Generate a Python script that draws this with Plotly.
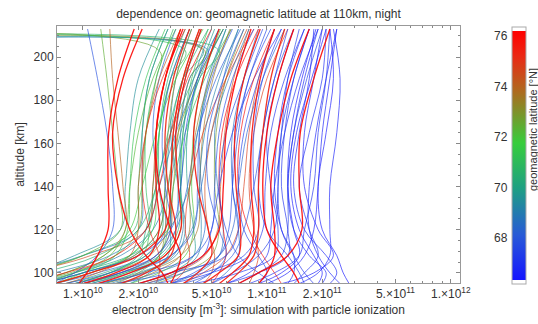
import plotly.graph_objects as go

# ---------------- data (electron density in units of 1e10 m^-3) ----------------
ALT_KM = [95, 100, 108, 120, 140, 165, 190, 213]
ALT_KM_TOPDROP = [95, 100, 108, 120, 140, 165, 190, 203, 209]

LAT_BLUE = [66.3, 66.5, 66.6, 66.8, 67.0, 67.1, 67.2, 67.3, 67.4, 67.5, 67.6, 67.7,
            67.8, 67.9, 66.9, 66.7, 67.0, 67.5, 67.3, 66.5, 67.8, 68.0, 66.4, 67.1, 66.8]
NE_BLUE = [
    [28, 26, 24, 20, 19, 21, 23, 22],
    [12, 18, 23, 19, 16, 16, 18, 20],
    [15, 19, 22, 22, 22, 24, 25, 23],
    [20, 21, 17, 14, 13, 14, 16, 19],
    [6, 9, 13, 13, 12, 12.5, 14, 17],
    [4, 7, 11, 11.5, 10.5, 10, 11.5, 14],
    [16, 15, 13, 10, 9, 9.5, 11, 13],
    [2.5, 4.5, 7.5, 9, 8.5, 8.5, 9.5, 12],
    [9, 10, 9, 7.5, 7, 7.5, 9, 11],
    [1.5, 3, 6, 7, 6.5, 6.8, 8, 10],
    [11, 9, 7, 6, 5.5, 6, 7.5, 9.5],
    [1.2, 2.2, 4, 5, 5.2, 5.5, 6.5, 8.5],
    [3.5, 5, 6, 5.5, 4.8, 4.8, 5.8, 7.5],
    [0.9, 1.6, 3, 4, 4.2, 4.3, 5, 6.5],
    [14, 16, 19, 17, 15, 17, 20, 21],
    [22, 24, 21, 16, 14, 15, 17, 18],
    [8, 11, 15, 16, 18, 19, 21, 22],
    [0.6, 1.0, 2.0, 3.0, 3.4, 3.6, 4.2, 5.5],
    [5, 6.5, 9, 11, 11.5, 12, 13, 15],
    [10, 13, 16, 18, 19, 20, 22, 24],
    [0.7, 0.9, 1.2, 1.45, 1.45, 1.35, 1.2, 1.06],
    [0.8, 1.4, 2.5, 3.0, 2.8, 2.7, 3.0, 3.8],
    [19, 20, 18, 15, 13.5, 14.5, 17.5, 21],
    [3, 5, 8, 9.5, 9.8, 10.5, 12.5, 16],
    [13, 14, 14, 12, 11, 11.5, 13, 16],
]

LAT_TEAL = [68.2, 68.4, 68.6, 68.8, 69.0, 69.2, 69.5, 69.8, 70.0, 70.3, 68.5, 69.3]
NE_TEAL = [
    [0.7, 1.2, 2.2, 2.8, 2.6, 2.4, 2.6, 3.2],
    [1.5, 2.5, 4.0, 4.6, 4.4, 4.3, 4.8, 6.0],
    [0.25, 0.45, 1.0, 2.0, 2.1, 2.1, 2.3, 2.9],
    [3, 4.2, 5.5, 5.8, 5.4, 5.2, 5.8, 7.0],
    [0.6, 0.9, 1.6, 2.4, 2.9, 3.2, 3.6, 4.4],
    [1.0, 1.6, 2.6, 3.2, 3.3, 3.5, 4.0, 5.0],
    [0.3, 0.5, 0.9, 1.6, 1.7, 1.8, 2.0, 2.6],
    [2.0, 3.0, 4.0, 4.0, 3.7, 3.7, 4.2, 5.2],
    [0.55, 0.9, 1.8, 2.9, 3.8, 4.2, 4.9, 6.0],
    [0.8, 1.3, 2.2, 2.7, 2.6, 2.6, 2.9, 3.6],
    [5, 6, 7, 7, 6.5, 6.5, 7.5, 9],
    [1.2, 2.0, 3.2, 3.6, 3.3, 3.0, 3.2, 3.9],
]

LAT_GREEN = [70.8, 71.2, 71.5, 72.0, 72.4, 72.8, 71.0]
NE_GREEN = [
    [0.3, 0.5, 1.0, 1.9, 2.0, 2.1, 2.3, 2.9],
    [1.0, 1.7, 2.8, 3.4, 3.4, 3.5, 3.9, 4.8],
    [0.6, 1.0, 1.8, 2.4, 2.5, 2.6, 3.0, 3.8],
    [1.8, 2.6, 3.6, 4.0, 3.9, 4.0, 4.5, 5.6],
    [0.3, 0.5, 1.0, 1.6, 1.55, 1.45, 1.35, 1.25],
    [2.5, 3.5, 5, 5.5, 5.2, 5.3, 6, 7.5],
    [0.9, 1.4, 2.1, 2.3, 2.2, 2.2, 2.5, 3.1],
]

LAT_OLIVE = [73.2, 73.6, 74.0, 74.3, 74.6, 74.8, 73.8]
NE_OLIVE = [
    [0.7, 1.1, 1.9, 2.6, 2.8, 2.9, 3.2, 3.9],
    [1.3, 2.1, 3.4, 4.2, 4.3, 4.5, 5.1, 6.3],
    [0.5, 0.8, 1.3, 1.7, 1.65, 1.55, 1.45, 1.4],
    [2.2, 3.2, 4.6, 5.4, 5.6, 5.9, 6.6, 8.0],
    [0.3, 0.5, 1.1, 2.2, 2.4, 2.5, 2.8, 3.4],
    [3.5, 4.5, 6, 7, 7.5, 8, 9, 11],
    [1.0, 1.6, 2.5, 3.0, 3.0, 3.1, 3.5, 4.3],
]

LAT_MIX = [67.2, 68.9, 75.1, 70.2, 66.8, 73.0, 74.9, 67.6, 71.8, 69.6, 76.0, 68.1, 72.2, 67.0,
           75.6, 70.9, 66.6, 74.2, 69.1, 67.9, 75.9, 68.7, 73.5, 66.4, 71.3, 76.2, 67.4, 70.5,
           74.5, 68.3]
NE_MIX = [
    [2.0, 3.0, 4.5, 5.0, 5.5, 6.5, 8.5, 12],
    [0.4, 0.7, 1.4, 2.2, 2.6, 3.2, 4.2, 5.8],
    [3.0, 3.5, 3.8, 3.6, 3.8, 4.5, 6.0, 8.5],
    [0.9, 1.4, 2.0, 2.2, 2.5, 3.0, 4.0, 5.5],
    [6, 8, 10, 10.5, 11, 12.5, 15, 19],
    [1.5, 2.0, 2.6, 2.8, 2.9, 3.3, 4.2, 5.8],
    [8, 8.5, 9, 8.5, 8, 8.5, 10, 13],
    [3.0, 4.0, 5.5, 6.2, 6.5, 7.0, 8.0, 10.5],
    [0.5, 0.8, 1.3, 1.8, 2.1, 2.5, 3.2, 4.5],
    [1.8, 2.3, 2.9, 3.0, 3.0, 3.4, 4.3, 5.8],
    [12, 11, 9.5, 8.0, 7.0, 7.2, 8.5, 11],
    [1.0, 1.6, 2.5, 3.2, 3.7, 4.2, 5.3, 7.2],
    [0.6, 0.9, 1.4, 1.7, 1.8, 2.0, 2.4, 3.2],
    [18, 16, 14, 12, 11.5, 12, 14, 17],
    [2.5, 2.6, 2.6, 2.3, 2.1, 2.2, 2.7, 3.6],
    [1.3, 1.9, 2.6, 2.9, 3.1, 3.6, 4.6, 6.4],
    [25, 22, 19, 17, 17, 18.5, 21, 24],
    [0.8, 1.2, 1.8, 2.0, 2.0, 2.2, 2.6, 3.4],
    [2.4, 3.2, 4.2, 4.4, 4.3, 4.6, 5.5, 7.0],
    [4.0, 5.0, 6.5, 7.5, 8.5, 9.5, 11, 14],
    [0.45, 0.8, 1.5, 2.2, 2.6, 3.0, 3.7, 5.0],
    [1.1, 1.8, 3.0, 3.9, 4.4, 5.0, 6.2, 8.0],
    [1.6, 2.4, 3.4, 3.8, 3.8, 4.1, 4.9, 6.4],
    [9, 12, 15, 14, 13, 13.5, 15.5, 18.5],
    [0.7, 1.0, 1.5, 1.75, 1.8, 1.9, 2.2, 2.8],
    [5, 5.5, 6, 5.8, 5.5, 5.7, 6.8, 9],
    [7, 9, 12, 13, 13, 14, 16.5, 20],
    [0.35, 0.6, 1.2, 2.0, 2.5, 2.9, 3.5, 4.8],
    [4.5, 5.0, 5.2, 4.8, 4.6, 5.0, 6.0, 7.8],
    [2.2, 3.5, 5.5, 6.5, 7.0, 7.8, 9.5, 12.5],
]

LAT_TOPDROP = [69.8, 70.6, 73.4, 72.6, 69.0, 71.0]
NE_TOPDROP = [
    [0.6, 1.0, 1.9, 2.6, 2.8, 3.0, 3.5, 4.5, 0.3],
    [1.1, 1.7, 2.7, 3.3, 3.4, 3.7, 4.3, 5.5, 0.05],
    [0.9, 1.4, 2.3, 2.9, 3.1, 3.3, 3.8, 4.6, 0.15],
    [0.5, 0.85, 1.5, 2.0, 2.1, 2.2, 2.5, 2.6, 0.02],
    [1.4, 2.1, 3.1, 3.5, 3.4, 3.4, 3.8, 4.8, 0.5],
    [0.7, 1.1, 1.8, 2.3, 2.4, 2.6, 3.0, 3.6, 0.08],
]

LAT_RED = [76.2, 76.0, 75.8, 75.6, 76.1, 75.9, 75.5, 76.3, 76.0, 75.7, 75.3, 76.2, 75.8, 76.1, 75.4]
NE_RED = [
    [0.95, 1.05, 1.2, 1.37, 1.37, 1.38, 1.55, 1.9],
    [2.9, 2.7, 2.2, 1.8, 1.55, 1.45, 1.65, 2.1],
    [1.2, 1.8, 2.8, 3.4, 3.3, 3.2, 3.6, 4.4],
    [3.5, 4.2, 5.0, 4.8, 4.2, 4.0, 4.5, 5.5],
    [2.0, 3.0, 4.5, 5.5, 5.8, 6.0, 6.8, 8.2],
    [5.5, 6.5, 8, 8.5, 8.2, 8.3, 9.2, 11],
    [0.7, 1.1, 2.0, 2.8, 3.0, 3.1, 3.5, 4.3],
    [15, 14, 12, 10, 9.5, 10, 11.5, 14],
    [7, 9, 13, 15.5, 15, 15.2, 18, 22],
    [4.5, 5.5, 7, 7.2, 6.8, 6.7, 7.5, 9.2],
    [1.6, 2.2, 3.0, 3.2, 2.9, 2.8, 3.1, 3.8],
    [9, 10, 11, 11, 10.5, 11.5, 13.5, 17],
    [1.0, 1.5, 2.3, 2.6, 2.5, 2.5, 2.8, 3.4],
    [3.0, 3.2, 3.4, 3.0, 2.6, 2.5, 2.8, 3.5],
    [6, 7, 8.5, 9, 9, 9.5, 10.5, 12.5],
]

X_TICK_VALS = [1e10, 2e10, 5e10, 1e11, 2e11, 5e11, 1e12]
X_TICK_TEXT = ["1.×10<sup>10</sup>", "2.×10<sup>10</sup>", "5.×10<sup>10</sup>",
               "1.×10<sup>11</sup>", "2.×10<sup>11</sup>", "5.×10<sup>11</sup>",
               "1.×10<sup>12</sup>"]
CB_TICKS = [68, 70, 72, 74, 76]
UNIT = 1e10

# ---------------- styling ----------------
PLOT_L, PLOT_R, PLOT_T, PLOT_B = 57, 460, 26, 283
H_PLOT = PLOT_B - PLOT_T
W_PLOT = PLOT_R - PLOT_L
CB_TOP, CB_BOT = 27, 284          # colorbar pixel extent
CB_LEFT = 512
CB_Y76, PX_PER_DEG = 36.0, 25.25  # pixel of 76 deg and scale
cmax = 76 + (CB_Y76 - CB_TOP) / PX_PER_DEG
cmin = cmax - (CB_BOT - CB_TOP) / PX_PER_DEG
LAT_MAX = cmax - 4 / PX_PER_DEG
LAT_MIN = cmin + 4 / PX_PER_DEG

STOPS = [
    (0.00, (20, 20, 255)),
    (0.18, (40, 90, 215)),
    (0.37, (30, 160, 130)),
    (0.55, (55, 205, 60)),
    (0.76, (175, 105, 30)),
    (0.90, (235, 40, 20)),
    (1.00, (255, 0, 0)),
]


def lat_color(lat, alpha):
    f = (lat - LAT_MIN) / (LAT_MAX - LAT_MIN)
    f = min(max(f, 0.0), 1.0)
    for (p0, c0), (p1, c1) in zip(STOPS[:-1], STOPS[1:]):
        if p0 <= f <= p1:
            t = (f - p0) / (p1 - p0) if p1 > p0 else 0
            c = [round(a + (b - a) * t) for a, b in zip(c0, c1)]
            return f"rgba({c[0]},{c[1]},{c[2]},{alpha})"
    return f"rgba(255,0,0,{alpha})"


fig = go.Figure()


def add_group(lats, profiles, alts, width, alpha):
    for lat, prof in zip(lats, profiles):
        fig.add_trace(go.Scatter(
            x=[v * UNIT for v in prof], y=alts, mode="lines",
            line=dict(color=lat_color(lat, alpha), width=width, shape="spline", smoothing=1.0),
            hoverinfo="skip", showlegend=False))


add_group(LAT_TEAL, NE_TEAL, ALT_KM, 1.0, 0.65)
add_group(LAT_TOPDROP, NE_TOPDROP, ALT_KM_TOPDROP, 1.0, 0.65)
add_group(LAT_GREEN, NE_GREEN, ALT_KM, 1.0, 0.65)
add_group(LAT_OLIVE, NE_OLIVE, ALT_KM, 1.0, 0.65)
add_group(LAT_MIX, NE_MIX, ALT_KM, 1.0, 0.65)
add_group(LAT_BLUE, NE_BLUE, ALT_KM, 1.0, 0.65)
add_group(LAT_RED, NE_RED, ALT_KM, 1.3, 0.9)

# colorbar via invisible marker trace
span = cmax - cmin
pad_lo = (LAT_MIN - cmin) / span
pad_hi = (LAT_MAX - cmin) / span
cscale = [[0.0, "white"], [pad_lo - 1e-4, "white"]]
for p, c in STOPS:
    cscale.append([pad_lo + p * (pad_hi - pad_lo), f"rgb({c[0]},{c[1]},{c[2]})"])
cscale += [[pad_hi + 1e-4, "white"], [1.0, "white"]]

fig.add_trace(go.Scatter(
    x=[1e10], y=[150], mode="markers",
    marker=dict(size=1, opacity=0, color=[70], cmin=cmin, cmax=cmax, colorscale=cscale,
                showscale=True,
                colorbar=dict(
                    thickness=14, lenmode="pixels", len=CB_BOT - CB_TOP,
                    y=(PLOT_B - (CB_TOP + CB_BOT) / 2) / H_PLOT, yanchor="middle",
                    x=(CB_LEFT - PLOT_L) / W_PLOT, xanchor="left", xpad=0, ypad=0,
                    outlinecolor="#aaaaaa", outlinewidth=1,
                    showticklabels=False, ticks="")),
    hoverinfo="skip", showlegend=False))

annotations = []
for t in CB_TICKS:
    py = CB_Y76 + (76 - t) * PX_PER_DEG
    annotations.append(dict(text=str(t), x=(CB_LEFT - 2 - PLOT_L) / W_PLOT, xanchor="right",
                            y=(PLOT_B - py) / H_PLOT, yanchor="middle", xref="paper", yref="paper",
                            showarrow=False, font=dict(size=12, color="#333333")))
annotations.append(dict(text="geomagnetic latitude [°N]", textangle=-90,
                        x=(533 - PLOT_L) / W_PLOT, xanchor="center",
                        y=(PLOT_B - 130) / H_PLOT, yanchor="middle", xref="paper", yref="paper",
                        showarrow=False, font=dict(size=11, color="#333333")))

axis_common = dict(showline=True, linecolor="#999999", linewidth=1, mirror="ticks",
                   ticks="inside", ticklen=4, tickcolor="#888888", showgrid=False, zeroline=False,
                   tickfont=dict(size=12, color="#333333"))

fig.update_layout(
    width=538, height=324,
    margin=dict(l=PLOT_L, r=538 - PLOT_R, t=PLOT_T, b=324 - PLOT_B, autoexpand=False),
    paper_bgcolor="white", plot_bgcolor="white",
    font=dict(family="Liberation Sans, Arial, sans-serif", color="#333333"),
    annotations=annotations,
    title=dict(text="dependence on: geomagnetic latitude at 110km, night",
               x=258.5 / 538, xanchor="center", y=1 - 14 / 324, yanchor="middle",
               yref="container", font=dict(size=12, color="#333333")),
    xaxis=dict(type="log", range=[9.859, 12.05], tickvals=X_TICK_VALS, ticktext=X_TICK_TEXT,
               minor=dict(ticks="inside", ticklen=2, tickcolor="#888888",
                          tickvals=[3e10, 4e10, 6e10, 7e10, 8e10, 9e10, 3e11, 4e11, 6e11, 7e11,
                                    8e11, 9e11]),
               title=dict(text="electron density [m<sup>-3</sup>]: simulation with particle ionization",
                          font=dict(size=12, color="#333333"), standoff=2),
               **axis_common),
    yaxis=dict(range=[95.3, 214.4], tickvals=[100, 120, 140, 160, 180, 200],
               minor=dict(ticks="inside", ticklen=2, tickcolor="#888888", dtick=5),
               title=dict(text="altitude [km]", font=dict(size=12, color="#333333"), standoff=6),
               **axis_common),
)

fig.write_html("out.html")
